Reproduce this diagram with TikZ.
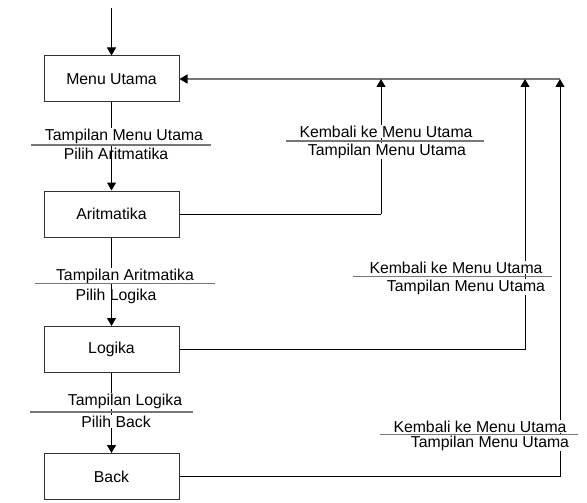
\documentclass[tikz,border=0pt]{standalone}
\usepackage{fontspec}
\setmainfont{Liberation Sans}
\usetikzlibrary{arrows.meta}
\definecolor{linegray}{HTML}{777777}
\definecolor{boxline}{HTML}{333333}
\tikzset{
  statebox/.style={draw=boxline, line width=1pt, minimum width=135pt, minimum height=46pt, inner sep=0pt, font=\fontsize{15.8}{18}\selectfont},
  flow/.style={draw=black, line width=1pt, -{Triangle[length=8pt,width=9pt]}},
  link/.style={draw=black, line width=1pt},
  rail/.style={draw=linegray, line width=1.6pt, -{Triangle[length=8pt,width=9pt,color=black,fill=black]}},
  divider/.style={draw=linegray, line width=1.2pt},
  msg/.style={anchor=base, inner sep=1pt, font=\fontsize{15.8}{18}\selectfont},
  msgw/.style={msg, fill=white},
}
\begin{document}
\begin{tikzpicture}[x=1pt, y=-1pt]
\useasboundingbox (0,0) rectangle (587,503);

% states
\node[statebox] (menu) at (111.5,79) {Menu Utama};
\node[statebox] (arit) at (111.5,214) {Aritmatika};
\node[statebox] (logi) at (111.5,349.5) {Logika};
\node[statebox] (back) at (111.5,476.5) {Back};

% free ends of the connectors
\coordinate (start) at (111.5,8);
\coordinate (ra) at (381,214);
\coordinate (ta) at (381,79);
\coordinate (rl) at (525,349.5);
\coordinate (tl) at (525,79);
\coordinate (rb) at (560,476.5);
\coordinate (tb) at (560,79);

% main flow
\draw[flow] (start) -- (menu.north);
\draw[flow] (menu.south) -- (arit.north);
\draw[flow] (arit.south) -- (logi.north);
\draw[flow] (logi.south) -- (back.north);

% return paths to the main menu
\draw[rail] (tb) -- (menu.east);
\draw[link] (arit.east) -- (ra);
\draw[flow] (ra) -- (ta);
\draw[link] (logi.east) -- (rl);
\draw[flow] (rl) -- (tl);
\draw[link] (back.east) -- (rb);
\draw[flow] (rb) -- (tb);

% message labels on the forward flow
\node[msgw] (m1a) at (124,140) {Tampilan Menu Utama};
\draw[divider] (31,145) -- (211,145);
\node[msg] (m1b) at (116,160) {Pilih Aritmatika};

\node[msgw] (m2a) at (125,280) {Tampilan Aritmatika};
\draw[divider] (35,283.5) -- (215,283.5);
\node[msg] (m2b) at (116,300) {Pilih Logika};

\node[msgw] (m3a) at (125,405) {Tampilan Logika};
\draw[divider] (30,412) -- (193,412);
\node[msgw] (m3b) at (116,427) {Pilih Back};

% message labels on the return paths
\node[msgw] (r1a) at (386,137) {Kembali ke Menu Utama};
\draw[divider] (286,141) -- (484,141);
\node[msgw] (r1b) at (387,155) {Tampilan Menu Utama};

\node[msgw] (r2a) at (456,273) {Kembali ke Menu Utama};
\draw[divider] (353,276.5) -- (552,276.5);
\node[msgw] (r2b) at (466,291) {Tampilan Menu Utama};

\node[msgw] (r3a) at (480,432) {Kembali ke Menu Utama};
\draw[divider] (380,434.5) -- (578,434.5);
\node[msgw] (r3b) at (490,447) {Tampilan Menu Utama};
\end{tikzpicture}
\end{document}
